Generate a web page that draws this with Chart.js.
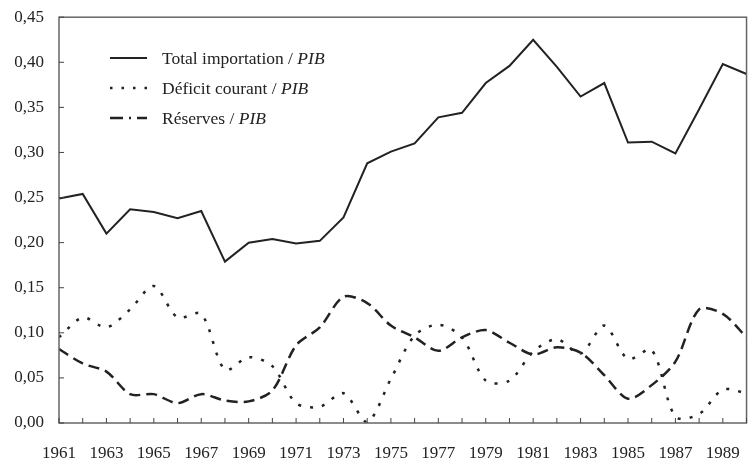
<!DOCTYPE html>
<html>
<head>
<meta charset="utf-8">
<script src="https://cdn.jsdelivr.net/npm/chart.js@4"></script>
<style>
  body { margin: 0; background: #fff; }
  #wrap { position: relative; width: 752px; height: 466px; }
  #legend { position: absolute; left: 108px; top: 43px; font-family: "Liberation Serif", serif; font-size: 17.5px; color: #222; }
  #legend div { height: 30px; display: flex; align-items: center; }
  #legend svg { width: 40px; height: 10px; margin-right: 14px; }
</style>
</head>
<body>
<div id="wrap">
  <canvas id="myChart" width="752" height="466"></canvas>
  <div id="legend">
    <div><svg><line x1="2" y1="5" x2="39" y2="5" stroke="#222" stroke-width="2"/></svg>Total importation / <i>&nbsp;PIB</i></div>
    <div><svg><line x1="2" y1="5" x2="39" y2="5" stroke="#222" stroke-width="2.5" stroke-dasharray="2.5 9"/></svg>Déficit courant / <i>&nbsp;PIB</i></div>
    <div><svg><line x1="2" y1="5" x2="39" y2="5" stroke="#222" stroke-width="2.5" stroke-dasharray="13 6 2 6"/></svg>Réserves / <i>&nbsp;PIB</i></div>
  </div>
</div>
<script>
const years = [1961, 1962, 1963, 1964, 1965, 1966, 1967, 1968, 1969, 1970,
    1971, 1972, 1973, 1974, 1975, 1976, 1977, 1978, 1979, 1980,
    1981, 1982, 1983, 1984, 1985, 1986, 1987, 1988, 1989, 1990];
const totalImportation = [0.249, 0.254, 0.210, 0.237, 0.234, 0.227, 0.235, 0.179, 0.200, 0.204,
    0.199, 0.202, 0.228, 0.288, 0.301, 0.310, 0.339, 0.344, 0.377, 0.396,
    0.425, 0.395, 0.362, 0.377, 0.311, 0.312, 0.299, 0.348, 0.398, 0.387];
const deficitCourant = [0.095, 0.117, 0.106, 0.126, 0.152, 0.117, 0.121, 0.059, 0.073, 0.063,
    0.022, 0.018, 0.033, 0.001, 0.049, 0.097, 0.109, 0.095, 0.047, 0.047,
    0.079, 0.093, 0.077, 0.108, 0.071, 0.081, 0.007, 0.010, 0.037, 0.033];
const reserves = [0.082, 0.066, 0.057, 0.032, 0.032, 0.022, 0.032, 0.025, 0.024, 0.036,
    0.086, 0.106, 0.140, 0.133, 0.108, 0.095, 0.080, 0.095, 0.103, 0.089,
    0.076, 0.084, 0.078, 0.053, 0.027, 0.042, 0.068, 0.126, 0.121, 0.095];
const yTicks = [0, 0.05, 0.10, 0.15, 0.20, 0.25, 0.30, 0.35, 0.40, 0.45];

const ink = "#222";
const frameColor = "#666";

function toPoints(values) {
    return values.map((v, i) => ({ x: years[i], y: v }));
}

// frame + inward tick marks
const framePlugin = {
    id: "frame",
    afterDraw(chart) {
        const { ctx, chartArea: a, scales } = chart;
        ctx.save();
        ctx.strokeStyle = frameColor;
        ctx.lineWidth = 1.5;
        ctx.strokeRect(a.left, a.top, a.right - a.left, a.bottom - a.top);
        ctx.strokeStyle = "#444";
        ctx.lineWidth = 1;
        ctx.beginPath();
        years.forEach(yr => {
            const px = scales.x.getPixelForValue(yr);
            ctx.moveTo(px, a.bottom);
            ctx.lineTo(px, a.bottom - 5);
        });
        yTicks.forEach(t => {
            const py = scales.y.getPixelForValue(t);
            ctx.moveTo(a.left, py);
            ctx.lineTo(a.left + 5, py);
        });
        ctx.stroke();
        ctx.restore();
    },
};

const serif = { family: "'Liberation Serif', serif", size: 17 };

new Chart(document.getElementById("myChart").getContext("2d"), {
    type: "line",
    data: {
        datasets: [
            {
                label: "Total importation / PIB",
                data: toPoints(totalImportation),
                borderColor: ink,
                borderWidth: 2,
                pointRadius: 0,
                tension: 0,
            },
            {
                label: "Déficit courant / PIB",
                data: toPoints(deficitCourant),
                borderColor: ink,
                borderWidth: 2.5,
                borderDash: [3, 9],
                pointRadius: 0,
                tension: 0.3,
            },
            {
                label: "Réserves / PIB",
                data: toPoints(reserves),
                borderColor: ink,
                borderWidth: 2.5,
                borderDash: [11, 6],
                pointRadius: 0,
                tension: 0.3,
            },
        ],
    },
    options: {
        responsive: false,
        animation: false,
        layout: { padding: { top: 13, right: 5, left: 0, bottom: 0 } },
        plugins: { legend: { display: false }, tooltip: { enabled: false } },
        scales: {
            x: {
                type: "linear",
                min: 1961,
                max: 1990,
                afterBuildTicks: (axis) => {
                    axis.ticks = years.filter(y => y % 2 === 1).map(v => ({ value: v }));
                },
                ticks: {
                    font: serif,
                    color: ink,
                    padding: 12,
                    maxRotation: 0,
                    autoSkip: false,
                    callback: (v) => String(v),
                },
                grid: { display: false },
                border: { display: false },
                afterFit: (axis) => { axis.height = 43; },
            },
            y: {
                min: 0,
                max: 0.45,
                afterBuildTicks: (axis) => {
                    axis.ticks = yTicks.map(v => ({ value: v }));
                },
                ticks: {
                    font: serif,
                    color: ink,
                    padding: 7,
                    callback: (v) => v.toFixed(2).replace(".", ","),
                },
                grid: { display: false },
                border: { display: false },
                afterFit: (axis) => { axis.width = 59; },
            },
        },
    },
    plugins: [framePlugin],
});
</script>
</body>
</html>
